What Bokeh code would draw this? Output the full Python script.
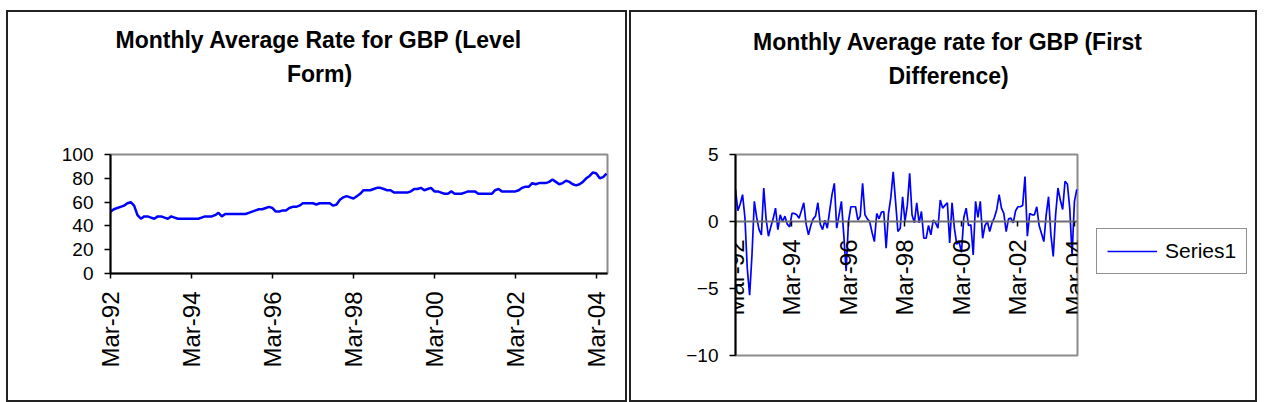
import math
from bokeh.plotting import figure
from bokeh.models import Range1d, FixedTicker, Title, Legend, LegendItem, Spacer
from bokeh.layouts import row, column
from bokeh.embed import file_html
from bokeh.resources import INLINE

# ---------------- data ----------------
tick_months = [0, 24, 48, 72, 96, 120, 144]
tick_labels = ["Mar-92", "Mar-94", "Mar-96", "Mar-98", "Mar-00", "Mar-02", "Mar-04"]

level_rate = [
    52, 54, 55, 56, 57, 59, 60, 57, 49, 46,
    48, 48, 47, 46, 48, 48, 47, 46, 48, 47,
    46, 46, 46, 46, 46, 46, 46, 47, 48, 48,
    48, 49, 51, 48, 50, 50, 50, 50, 50, 50,
    50, 51, 52, 53, 54, 54, 55, 56, 55, 52,
    52, 53, 53, 55, 56, 56, 57, 59, 59, 59,
    59, 58, 59, 59, 59, 59, 57, 58, 62, 64,
    65, 64, 63, 65, 67, 70, 70, 70, 71, 72,
    72, 71, 70, 70, 68, 68, 68, 68, 68, 69,
    71, 71, 72, 70, 71, 72, 69, 69, 68, 67,
    67, 69, 67, 67, 67, 68, 69, 69, 69, 67,
    67, 67, 67, 67, 70, 71, 69, 69, 69, 69,
    69, 70, 72, 73, 73, 76, 75, 76, 76, 76,
    77, 79, 77, 75, 76, 78, 77, 75, 74, 75,
    77, 80, 82, 85, 84, 80, 81, 84,
]

first_diff = [
    2.4, 0.8, 1.3, 2.0, 0.3, -3.5, -5.5, -2.5, 1.5, 0.3,
    -0.6, -1.0, 2.5, 0.2, -1.1, -0.4, 0.2, 1.0, -0.6, 0.5,
    0.0, 0.4, -0.2, -0.4, 0.6, 0.6, 0.5, 0.25, 0.8, 1.4,
    -0.2, -1.0, -0.3, 0.2, 0.4, 1.4, -0.2, -0.6, 0.1, -0.5,
    0.8, 2.0, 2.85, -0.5, 0.5, 1.5, -1.0, -3.7, 0.0, 1.1,
    1.1, 1.1, 0.1, 0.4, 2.85, 0.5, 0.2, 0.0, -0.8, -1.5,
    0.6, 0.2, 0.7, 0.75, -2.0, 0.6, 1.8, 3.7, 1.5, -0.75,
    -0.5, 1.85, 0.0, 1.2, 3.6, 0.5, -0.1, 1.4, -0.1, 0.75,
    -1.25, -1.25, -0.3, -1.0, 0.1, -0.1, -0.5, 1.6, 1.0, 1.2,
    1.4, -1.6, 1.4, -0.5, -1.7, -1.5, -2.3, 0.3, 1.0, -0.3,
    -0.25, -2.5, 1.5, 0.3, 1.5, -1.25, -0.3, 0.0, -0.75, -0.1,
    0.3, 0.9, 2.0, 1.0, 0.6, -0.75, 0.2, 0.25, -0.1, 0.8,
    1.1, 1.1, 1.2, 3.35, -1.1, 0.6, 0.5, 0.5, 1.1, -0.3,
    -0.9, -1.5, 0.5, 1.85, -1.0, -2.6, 0.5, 2.5, 1.6, 0.9,
    3.0, 2.8, 1.0, -2.5, 1.5, 2.4,
]

left_title = ["Monthly Average Rate for GBP (Level", "Form)"]
right_title = ["Monthly Average rate for GBP (First", "Difference)"]
legend_label = "Series1"

FONT = "Liberation Sans"
BLUE = "#0000ff"
BORDER = {"box-shadow": "0 0 0 2px #222222"}


def style_axes(p, xsize, ysize):
    for ax in (p.xaxis[0], p.yaxis[0]):
        ax.major_label_text_font = FONT
        ax.major_label_text_color = "black"
        ax.minor_tick_line_color = None
        ax.major_tick_in = 0
        ax.axis_line_width = 2
        ax.axis_line_color = "black"
        ax.major_tick_line_color = "black"
        ax.major_tick_line_width = 1.5
    p.xaxis[0].major_label_text_font_size = xsize
    p.yaxis[0].major_label_text_font_size = ysize
    p.xaxis[0].ticker = FixedTicker(ticks=tick_months)
    p.xaxis[0].major_label_overrides = {m: lab for m, lab in zip(tick_months, tick_labels)}
    p.xaxis[0].major_label_orientation = math.pi / 2
    p.xaxis[0].major_tick_out = 5
    p.yaxis[0].major_tick_out = 6
    p.yaxis[0].major_label_standoff = 11
    p.xgrid.visible = False
    p.ygrid.visible = False
    p.outline_line_color = "#8c8c8c"
    p.outline_line_width = 2


def add_titles(p, lines, offsets, gap, so_top):
    # titles stack outward from the frame: (optional blank spacer), second line, first line
    if gap is not None:
        p.add_layout(Title(text=" ", text_font_size="1px", standoff=gap), "above")
    p.add_layout(Title(text=lines[1], align="left", offset=offsets[1], standoff=0,
                       text_font=FONT, text_font_size="23px", text_font_style="bold",
                       text_color="black"), "above")
    p.add_layout(Title(text=lines[0], align="left", offset=offsets[0], standoff=so_top,
                       text_font=FONT, text_font_size="23px", text_font_style="bold",
                       text_color="black"), "above")


# ---------------- left chart ----------------
p1 = figure(frame_width=497, frame_height=119, output_backend="svg", toolbar_location=None,
            x_range=Range1d(0, 147.3), y_range=Range1d(0, 100),
            min_border_left=102, min_border_right=18,
            min_border_top=142, min_border_bottom=127, title=None, styles=BORDER)
p1.line(list(range(len(level_rate))), level_rate, line_color=BLUE, line_width=2.5)
style_axes(p1, "24px", "19px")
p1.xaxis[0].major_label_standoff = 13
p1.yaxis[0].ticker = FixedTicker(ticks=[0, 20, 40, 60, 80, 100])
add_titles(p1, left_title, [5, 176.5], 65, 12)

# ---------------- right chart: title strip ----------------
ptitle = figure(width=624, height=130, output_backend="svg", toolbar_location=None,
                x_range=Range1d(0, 1), y_range=Range1d(0, 1),
                x_axis_type=None, y_axis_type=None,
                min_border_left=104, min_border_right=0,
                min_border_top=76, min_border_bottom=0, title=None)
ptitle.xgrid.visible = False
ptitle.ygrid.visible = False
ptitle.outline_line_color = None
add_titles(ptitle, right_title, [17.5, 153], None, 12)

# ---------------- right chart: plot ----------------
p2 = figure(frame_width=342, frame_height=201, output_backend="svg", toolbar_location=None,
            x_range=Range1d(0, 145.3), y_range=Range1d(-10, 5),
            min_border_left=104, min_border_right=10,
            min_border_top=12, min_border_bottom=45, title=None)
p2.line(list(range(len(first_diff))), first_diff, line_color=BLUE, line_width=1.7)
style_axes(p2, "24px", "19px")
p2.xaxis[0].fixed_location = 0
p2.xaxis[0].axis_line_color = "#6e6e6e"
p2.xaxis[0].major_label_standoff = 13
p2.yaxis[0].ticker = FixedTicker(ticks=[-10, -5, 0, 5])

# ---------------- right chart: legend strip ----------------
pleg = figure(width=168, height=258, output_backend="svg", toolbar_location=None,
              x_range=Range1d(-20, -10), y_range=Range1d(-20, -10),
              x_axis_type=None, y_axis_type=None, min_border=0, title=None)
pleg.xgrid.visible = False
pleg.ygrid.visible = False
pleg.outline_line_color = None
# same series; it lies outside this strip's ranges, only its legend swatch shows
r_leg = pleg.line(list(range(len(first_diff))), first_diff, line_color=BLUE, line_width=1.7)
legend = Legend(items=[LegendItem(label=legend_label, renderers=[r_leg])],
                location=(9, 81), orientation="vertical",
                glyph_width=50, glyph_height=24, label_height=24,
                label_standoff=8, padding=10, margin=0, spacing=0,
                label_text_font=FONT, label_text_font_size="21px", label_text_color="black",
                border_line_color="#222222", border_line_width=1.5,
                background_fill_color="white", background_fill_alpha=1.0)
pleg.add_layout(legend)

right_panel = column(ptitle, row(p2, pleg), styles=BORDER)

layout = column(Spacer(height=12),
                row(Spacer(width=8), p1, Spacer(width=6), right_panel))

open("out.html", "w").write(file_html(layout, INLINE))
